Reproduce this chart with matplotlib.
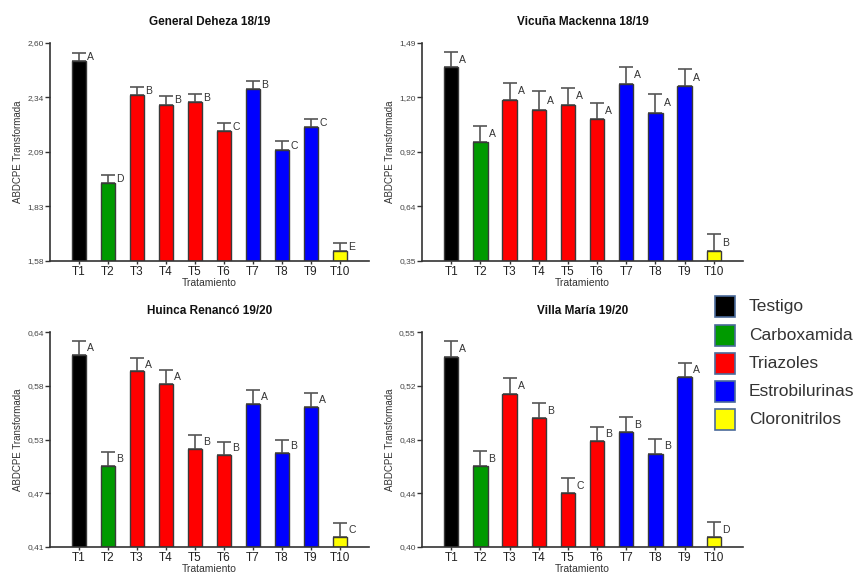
import numpy as np
import matplotlib
matplotlib.use("Agg")
import matplotlib.pyplot as plt
from matplotlib.patches import Rectangle

plt.rcParams['font.family'] = ['Liberation Sans', 'DejaVu Sans']

# Datos
tratamientos = ["T1", "T2", "T3", "T4", "T5", "T6", "T7", "T8", "T9", "T10"]
grupos = ["Testigo", "Carboxamida", "Triazoles", "Estrobilurinas", "Cloronitrilos"]
colores_grupo = ["#000000", "#009a00", "#ff0000", "#0000ff", "#ffff00"]
grupo_trat = [0, 1, 2, 2, 2, 2, 3, 3, 3, 4]

# General Deheza 18/19
gd_media = [2.517, 1.943, 2.355, 2.310, 2.325, 2.188, 2.386, 2.098, 2.205, 1.627]
gd_err = [0.036, 0.039, 0.038, 0.043, 0.035, 0.038, 0.037, 0.043, 0.039, 0.038]
gd_letras = ["A", "D", "B", "B", "B", "C", "B", "C", "C", "E"]
gd_ylim = (1.58, 2.60)
gd_ticks = ["1,58", "1,83", "2,09", "2,34", "2,60"]

# Vicuña Mackenna 18/19
vm_media = [1.362, 0.971, 1.193, 1.137, 1.167, 1.092, 1.277, 1.126, 1.263, 0.402]
vm_err = [0.081, 0.087, 0.087, 0.103, 0.089, 0.085, 0.089, 0.098, 0.089, 0.089]
vm_letras = ["A", "A", "A", "A", "A", "A", "A", "A", "A", "B"]
vm_ylim = (0.35, 1.49)
vm_ticks = ["0,35", "0,64", "0,92", "1,20", "1,49"]

# Huinca Renancó 19/20
hr_media = [0.6157, 0.4968, 0.5981, 0.5851, 0.5151, 0.5084, 0.5633, 0.5105, 0.5601, 0.4209]
hr_err = [0.0148, 0.0151, 0.0148, 0.0148, 0.0152, 0.0145, 0.0148, 0.0145, 0.0145, 0.0147]
hr_letras = ["A", "B", "A", "A", "B", "B", "A", "B", "A", "C"]
hr_ylim = (0.41, 0.64)
hr_ticks = ["0,41", "0,47", "0,53", "0,58", "0,64"]

# Villa María 19/20
vma_media = [0.5330, 0.4563, 0.5067, 0.4902, 0.4375, 0.4738, 0.4803, 0.4653, 0.5185, 0.4069]
vma_err = [0.0108, 0.0106, 0.0111, 0.0103, 0.0108, 0.0104, 0.0103, 0.0102, 0.0103, 0.0106]
vma_letras = ["A", "B", "A", "B", "C", "B", "B", "B", "A", "D"]
vma_ylim = (0.40, 0.55)
vma_ticks = ["0,40", "0,44", "0,48", "0,52", "0,55"]

paneles = [
    ("General Deheza 18/19", gd_media, gd_err, gd_letras, gd_ylim, gd_ticks, [0.0583, 0.5453, 0.3722, 0.3798]),
    ("Vicuña Mackenna 18/19", vm_media, vm_err, vm_letras, vm_ylim, vm_ticks, [0.4924, 0.5453, 0.3746, 0.3798]),
    ("Huinca Renancó 19/20", hr_media, hr_err, hr_letras, hr_ylim, hr_ticks, [0.0583, 0.0470, 0.3722, 0.3740]),
    ("Villa María 19/20", vma_media, vma_err, vma_letras, vma_ylim, vma_ticks, [0.4924, 0.0470, 0.3746, 0.3740]),
]

fig = plt.figure(figsize=(8.57, 5.74), dpi=100)

x = np.arange(1, len(tratamientos) + 1)
bar_colors = [colores_grupo[g] for g in grupo_trat]

for titulo, media, err, letras, ylim, tick_labels, pos in paneles:
    ax = fig.add_axes(pos)
    media = np.array(media)
    err = np.array(err)
    ax.bar(x, media - ylim[0], bottom=ylim[0], width=0.49, color=bar_colors,
           edgecolor="#3a3a3a", linewidth=1.0, zorder=2)
    ax.errorbar(x, media, yerr=[np.zeros_like(err), err], fmt="none",
                ecolor="#555555", elinewidth=1.2, capsize=4.8, capthick=1.2, zorder=1)
    for xi, m, e, l in zip(x, media, err, letras):
        ax.text(xi + 0.28, m + e / 2, l, ha="left", va="center",
                fontsize=7.5, color="#333333")
    ax.set_xlim(0, 11)
    ax.set_ylim(*ylim)
    ax.set_xticks(x)
    ax.set_xticklabels(tratamientos, fontsize=8.5, color="#222222")
    ax.set_yticks(np.linspace(ylim[0], ylim[1], 5))
    ax.set_yticklabels(tick_labels, fontsize=6, color="#444444")
    ax.tick_params(axis="x", length=2.5, width=1, pad=1, color="#333333")
    ax.tick_params(axis="y", length=3.5, width=1, pad=1, color="#333333")
    for s in ["top", "right"]:
        ax.spines[s].set_visible(False)
    for s in ["left", "bottom"]:
        ax.spines[s].set_color("#333333")
        ax.spines[s].set_linewidth(1.2)
    ax.set_title(titulo, fontsize=8.5, fontweight="bold", pad=13, color="#111111")
    ax.set_xlabel("Tratamiento", fontsize=7.5, labelpad=0, color="#333333")
    ax.set_ylabel("ABDCPE Transformada", fontsize=7, labelpad=3, color="#333333")

# Leyenda
for i, (g, c) in enumerate(zip(grupos, colores_grupo)):
    yc = 1 - (306.7 + i * 28.3) / 574
    fig.patches.append(Rectangle((715 / 857, yc - 10.5 / 574), 20 / 857, 21 / 574,
                                 transform=fig.transFigure, facecolor=c,
                                 edgecolor="#4a6a9a", linewidth=1.2))
    fig.text(749 / 857, yc, g, ha="left", va="center", fontsize=12.5, color="#333333")

fig.savefig("out.png", dpi=100)
